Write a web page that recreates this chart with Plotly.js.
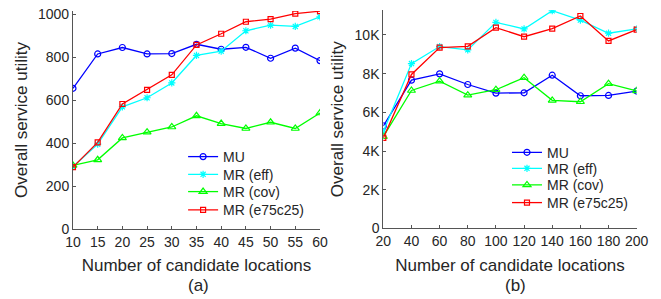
<!DOCTYPE html>
<html>
<head>
<meta charset="utf-8">
<script src="https://cdn.plot.ly/plotly-3.0.1.min.js"></script>
<style>html,body{margin:0;padding:0;background:#fff;}#chart{width:661px;height:299px;}</style>
</head>
<body>
<div id="chart"></div>
<script>
// Panel (a)
const xA = [10, 15, 20, 25, 30, 35, 40, 45, 50, 55, 60];
const muA = [655, 815, 845, 815, 817, 860, 837, 846, 795, 842, 784];
const effA = [290, 395, 569, 611, 680, 808, 828, 923, 949, 943, 988];
const covA = [296, 322, 424, 451, 475, 527, 491, 468, 497, 468, 540];
const mixA = [288, 403, 582, 648, 718, 857, 909, 965, 977, 1003, 1014];

// Panel (b)
const xB = [20, 40, 60, 80, 100, 120, 140, 160, 180, 200];
const muB = [5300, 7665, 7990, 7440, 6995, 7010, 7920, 6860, 6875, 7100];
const effB = [5000, 8520, 9400, 9230, 10650, 10310, 11250, 10770, 10090, 10310];
const covB = [4750, 7130, 7610, 6890, 7170, 7790, 6620, 6550, 7480, 7115];
const mixB = [4680, 7960, 9350, 9415, 10380, 9910, 10330, 10980, 9690, 10275];

const yTickValsA = [0, 200, 400, 600, 800, 1000];
const yTickValsB = [0, 2000, 4000, 6000, 8000, 10000];
const yTickTextB = ['0', '2K', '4K', '6K', '8K', '10K'];

const names = ['MU', 'MR (eff)', 'MR (cov)', 'MR (e75c25)'];
const colors = ['#0000ff', '#00ffff', '#00ff00', '#ff0000'];
const symbols = ['circle-open', 'asterisk-open', 'triangle-up-open', 'square-open'];
const sizes = [6, 6, 7, 5];

const seriesA = [muA, effA, covA, mixA];
const seriesB = [muB, effB, covB, mixB];

// legend entry positions (paper coords)
const legAx = 0.277, legAy = [0.5284, 0.4692, 0.4114, 0.3502];
const legBx = 0.767, legBy = [0.5428, 0.4893, 0.4338, 0.3746];

const txt = '#262626';
const fam = 'Liberation Sans, Arial, sans-serif';

const traces = [];
seriesA.forEach((ys, i) => {
  traces.push({
    x: xA, y: ys, name: names[i], type: 'scatter', mode: 'lines+markers',
    xaxis: 'x', yaxis: 'y', legend: i === 0 ? 'legend' : 'legend' + (i + 1),
    line: {color: colors[i], width: 1.3},
    marker: {symbol: symbols[i], size: sizes[i], color: colors[i], line: {color: colors[i], width: 1.2}}
  });
});
seriesB.forEach((ys, i) => {
  traces.push({
    x: xB, y: ys, name: names[i], type: 'scatter', mode: 'lines+markers',
    xaxis: 'x2', yaxis: 'y2', legend: 'legend' + (i + 5),
    line: {color: colors[i], width: 1.3},
    marker: {symbol: symbols[i], size: sizes[i], color: colors[i], line: {color: colors[i], width: 1.2}}
  });
});

const axisCommon = {
  showgrid: false, zeroline: false, showline: true, linecolor: '#555555', linewidth: 1,
  ticks: 'inside', ticklen: 3, tickcolor: '#555555', tickwidth: 1,
  tickfont: {family: fam, size: 14, color: txt},
  fixedrange: true
};
const titleFont = {family: fam, size: 17, color: txt};

const layout = {
  width: 661, height: 299,
  margin: {l: 0, r: 0, t: 0, b: 0},
  paper_bgcolor: '#ffffff', plot_bgcolor: '#ffffff',
  font: {family: fam, color: txt},
  xaxis: Object.assign({}, axisCommon, {
    domain: [0.1104, 0.4841], range: [10, 60], tickmode: 'array', tickvals: xA, anchor: 'y',
    title: {text: 'Number of candidate locations', font: titleFont, standoff: 10}
  }),
  yaxis: Object.assign({}, axisCommon, {
    domain: [0.2341, 0.9632], range: [0, 1015], tickmode: 'array', tickvals: yTickValsA, anchor: 'x',
    title: {text: 'Overall service utility', font: titleFont, standoff: 6}
  }),
  xaxis2: Object.assign({}, axisCommon, {
    domain: [0.5799, 0.9632], range: [20, 200], tickmode: 'array', tickvals: xB, anchor: 'y2',
    title: {text: 'Number of candidate locations', font: titleFont, standoff: 10}
  }),
  yaxis2: Object.assign({}, axisCommon, {
    domain: [0.2358, 0.9666], range: [0, 11290], tickmode: 'array', tickvals: yTickValsB, ticktext: yTickTextB, anchor: 'x2',
    title: {text: 'Overall service utility', font: titleFont, standoff: 6}
  }),
  annotations: [
    {text: '(a)', x: 0.300, y: 0.0445, xref: 'paper', yref: 'paper', showarrow: false, xanchor: 'center', yanchor: 'middle', font: titleFont},
    {text: '(b)', x: 0.7806, y: 0.0445, xref: 'paper', yref: 'paper', showarrow: false, xanchor: 'center', yanchor: 'middle', font: titleFont}
  ],
  showlegend: true
};

function legendAt(x, y) {
  return {
    x: x, y: y, xanchor: 'left', yanchor: 'top', bgcolor: 'rgba(255,255,255,0)',
    font: {family: fam, size: 14, color: txt}, itemwidth: 30
  };
}
for (let i = 0; i < 4; i++) {
  layout[i === 0 ? 'legend' : 'legend' + (i + 1)] = legendAt(legAx, legAy[i]);
  layout['legend' + (i + 5)] = legendAt(legBx, legBy[i]);
}

Plotly.newPlot('chart', traces, layout, {displayModeBar: false, staticPlot: true});
</script>
</body>
</html>
